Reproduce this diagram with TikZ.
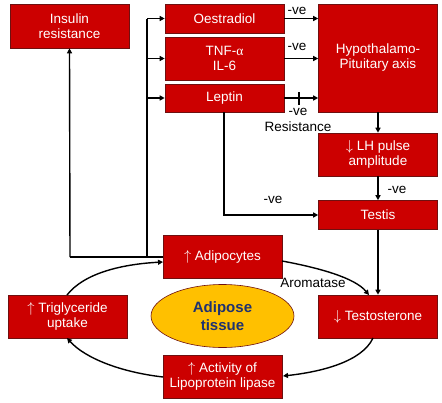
\documentclass[tikz,border=0pt]{standalone}
\usepackage{fontspec}
\setmainfont{Liberation Sans}
\newfontfamily\serifa{Liberation Serif}
\usetikzlibrary{arrows.meta,shapes.geometric}
\definecolor{boxred}{HTML}{CC0000}
\definecolor{boxedge}{HTML}{6E1010}
\definecolor{gold}{HTML}{FFC000}
\definecolor{navy}{HTML}{1F3270}
\begin{document}
\begin{tikzpicture}[x=1pt,y=1pt,
  rbox/.style={draw=boxedge,line width=0.6pt,fill=boxred,text=white,
    minimum width=119pt,inner sep=0pt,align=center,
    font=\fontsize{13.5}{15}\selectfont},
  conn/.style={line width=1.4pt,-{Triangle[length=5pt,width=5pt]}},
  plain/.style={line width=1.4pt},
  lbl/.style={font=\fontsize{13.5}{15}\selectfont,inner sep=0pt}]
\useasboundingbox (0,0) rectangle (442,-402);
% boxes
\node[rbox,minimum height=44pt] (ins) at (69.5,-26) {Insulin\\resistance};
\node[rbox,minimum height=29pt] (oes) at (224.5,-18.5) {Oestradiol};
\node[rbox,minimum height=43pt] (tnf) at (224.5,-58.5) {TNF-{\serifa α}\\IL-6};
\node[rbox,minimum height=28pt] (lep) at (224.5,-98) {Leptin};
\node[rbox,minimum height=108pt] (hpa) at (378,-58) {Hypothalamo-\\Pituitary axis};
\node[rbox,minimum height=43pt] (lh) at (378,-154.5) {$\downarrow$ LH pulse\\amplitude};
\node[rbox,minimum height=29pt] (tes) at (378,-215) {Testis};
\node[rbox,minimum height=43pt] (adi) at (222.5,-256.5) {$\uparrow$ Adipocytes};
\node[rbox,minimum height=43pt] (tst) at (378,-316.5) {$\downarrow$ Testosterone};
\node[rbox,minimum height=43pt] (tri) at (67.5,-316.5) {$\uparrow$ Triglyceride\\uptake};
\node[rbox,minimum height=43pt] (lpl) at (222.5,-376.5) {$\uparrow$ Activity of\\Lipoprotein lipase};
\node[ellipse,draw=boxedge,line width=0.6pt,fill=gold,minimum width=143pt,minimum height=63pt,
  inner sep=0pt,align=center,text=navy,font=\fontsize{15}{18}\selectfont\bfseries] (adt) at (222.5,-316) {Adipose\\tissue};
% coordinates
\coordinate (j1) at (70,-257);
\coordinate (j2) at (147,-257);
\coordinate (b1) at (147,-18.5);
\coordinate (b2) at (147,-58.5);
\coordinate (b3) at (147,-98);
\coordinate (lt) at (224,-215);
% left feedback lines
\draw[plain] (adi.west |- j1) -- (j1);
\draw[conn] (j1) -- (ins.south);
\draw[plain] (j2) -- (b1);
\draw[conn] (b1) -- (oes.west);
\draw[conn] (b2) -- (tnf.west);
\draw[conn] (b3) -- (lep.west);
% to HPA
\draw[conn] (oes.east) -- (oes.east -| hpa.west);
\draw[conn] (tnf.east) -- (tnf.east -| hpa.west);
\draw[conn] (lep.east) -- (lep.east -| hpa.west);
\coordinate (tk1) at (299,-92);
\coordinate (tk2) at (299,-105);
\draw[plain] (tk1) -- (tk2);
\node[lbl] (n1) at (297,-11) {-ve};
\node[lbl] (n2) at (297,-47) {-ve};
\node[lbl] (n3) at (298,-112) {-ve};
\node[lbl] (n4) at (298,-127) {Resistance};
% HPA chain
\draw[conn] (hpa.south) -- (lh.north);
\draw[conn] (lh.south) -- (tes.north);
\node[lbl] (n5) at (397,-190) {-ve};
\draw[conn] (lep.south -| lt) -- (lt) -- (tes.west);
\node[lbl] (n6) at (273,-200) {-ve};
\draw[conn] (tes.south) -- (tst.north);
% cycle
\coordinate (ae) at (282,-261);
\coordinate (tn) at (369,-295);
\draw[conn] (ae) .. controls (320,-268) and (355,-278) .. (tn);
\node[lbl] (n7) at (313,-283) {Aromatase};
\coordinate (ts) at (373,-338);
\coordinate (le) at (283,-376);
\draw[conn] (ts) .. controls (362,-362) and (320,-372) .. (le);
\coordinate (lw) at (163,-377);
\coordinate (tb) at (67,-338);
\draw[conn] (lw) .. controls (120,-372) and (85,-358) .. (tb);
\coordinate (tt) at (67,-295);
\coordinate (aw) at (163,-262);
\draw[conn] (tt) .. controls (85,-272) and (125,-264) .. (aw);
\end{tikzpicture}
\end{document}
